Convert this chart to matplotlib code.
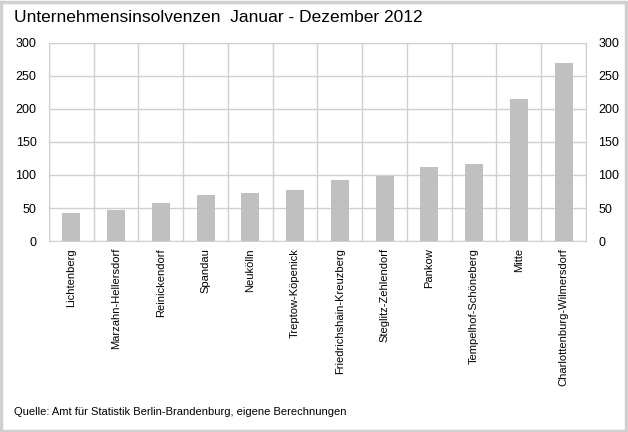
import matplotlib.pyplot as plt
import numpy as np
from matplotlib.patches import Rectangle

plt.rcParams["font.family"] = ["Liberation Sans", "DejaVu Sans"]

districts = [
    "Lichtenberg", "Marzahn-Hellersdorf", "Reinickendorf", "Spandau",
    "Neukölln", "Treptow-Köpenick", "Friedrichshain-Kreuzberg",
    "Steglitz-Zehlendorf", "Pankow", "Tempelhof-Schöneberg", "Mitte",
    "Charlottenburg-Wilmersdorf",
]
insolvencies = [42, 47, 57, 69, 72, 77, 93, 98, 112, 116, 215, 269]
yticks = [0, 50, 100, 150, 200, 250, 300]

GRID = "#d0d0d0"
BAR = "#c0c0c0"

fig = plt.figure(figsize=(6.28, 4.32), dpi=100)
ax = fig.add_axes([0.078, 0.442, 0.855, 0.459])

x = np.arange(len(districts))
ax.bar(x, insolvencies, width=0.4, color=BAR, zorder=2)

ax.set_xlim(-0.5, len(districts) - 0.5)
ax.set_ylim(0, 300)
ax.set_yticks(yticks)
ax.set_xticks(x)
ax.set_xticklabels(districts, rotation=90, fontsize=8)
ax.set_xticks(np.arange(len(districts) + 1) - 0.5, minor=True)
ax.grid(axis="y", color=GRID, linewidth=1, zorder=0)
ax.grid(axis="x", which="minor", color=GRID, linewidth=1, zorder=0)
ax.tick_params(axis="x", which="both", length=0, pad=5)
ax.tick_params(axis="y", length=0, labelsize=9, pad=9)
for s in ax.spines.values():
    s.set_color(GRID)

ax2 = ax.twinx()
ax2.set_ylim(0, 300)
ax2.set_yticks(yticks)
ax2.tick_params(axis="y", length=0, labelsize=9, pad=9)
for s in ax2.spines.values():
    s.set_visible(False)

fig.text(0.022, 0.96, "Unternehmensinsolvenzen  Januar - Dezember 2012",
         fontsize=12.5, va="center", ha="left")
fig.text(0.022, 0.046, "Quelle: Amt für Statistik Berlin-Brandenburg, eigene Berechnungen",
         fontsize=8, va="center", ha="left")

fig.patches.append(Rectangle((0.002, 0.003), 0.995, 0.993, transform=fig.transFigure,
                             fill=False, edgecolor="#d0d0d0", linewidth=2.5))

plt.savefig("out.png", dpi=100)
